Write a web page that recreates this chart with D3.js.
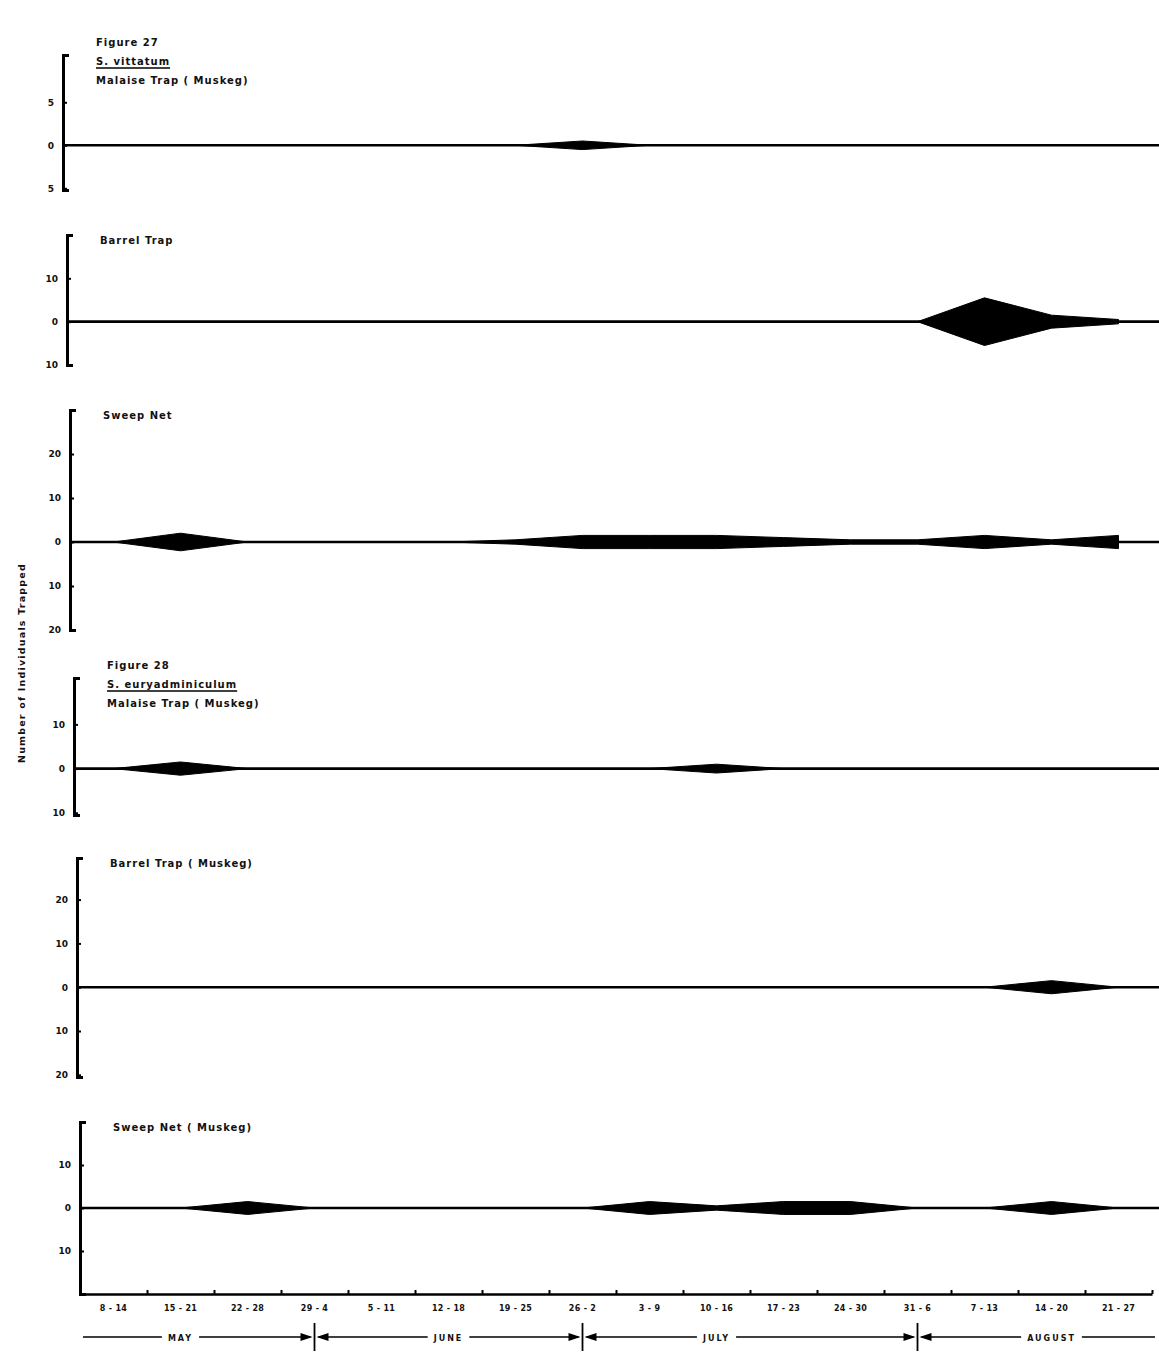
<!DOCTYPE html>
<html>
<head>
<meta charset="utf-8">
<script src="https://cdn.jsdelivr.net/npm/d3@7"></script>
<style>
  body { margin: 0; background: #fff; }
  svg text { font-family: "DejaVu Sans", "Liberation Sans", sans-serif; font-weight: bold; fill: #111; }
</style>
</head>
<body>
<svg id="chart"></svg>
<script>
// weekly collection periods (May - August)
const weeks = ["8 - 14", "15 - 21", "22 - 28", "29 - 4", "5 - 11", "12 - 18", "19 - 25", "26 - 2",
  "3 - 9", "10 - 16", "17 - 23", "24 - 30", "31 - 6", "7 - 13", "14 - 20", "21 - 27"];
const months = ["MAY", "JUNE", "JULY", "AUGUST"];
const monthBreaks = ["29 - 4", "26 - 2", "31 - 6"];

// number of individuals trapped per week
// Figure 27  S. vittatum
const vittatumMalaise = [0, 0, 0, 0, 0, 0, 0, 1, 0, 0, 0, 0, 0, 0, 0, 0];
const vittatumBarrel  = [0, 0, 0, 0, 0, 0, 0, 0, 0, 0, 0, 0, 0, 11, 3, 1];
const vittatumSweep   = [0, 4, 0, 0, 0, 0, 1, 3, 3, 3, 2, 1, 1, 3, 1, 3];
// Figure 28  S. euryadminiculum
const euryMalaise = [0, 3, 0, 0, 0, 0, 0, 0, 0, 2, 0, 0, 0, 0, 0, 0];
const euryBarrel  = [0, 0, 0, 0, 0, 0, 0, 0, 0, 0, 0, 0, 0, 0, 3, 0];
const eurySweep   = [0, 0, 3, 0, 0, 0, 0, 0, 3, 1, 3, 3, 0, 0, 3, 0];

// y tick values per panel (shown without sign)
const ticks5 = [5, 0, -5];
const ticks10 = [10, 0, -10];
const ticks20 = [20, 10, 0, -10, -20];

const width = 1159;
const height = 1353;
const svg = d3.select("#chart").attr("width", width).attr("height", height);

const panels = [
  { title: ["Figure  27", "S. vittatum", "Malaise  Trap ( Muskeg)"], under: 1, data: vittatumMalaise, ticks: ticks5,
    axisX: 63, top: 55, bottom: 190, domain: [-5.2, 10.5] },
  { title: ["Barrel  Trap"], data: vittatumBarrel, ticks: ticks10,
    axisX: 67, top: 235, bottom: 365, domain: [-10, 20] },
  { title: ["Sweep  Net"], data: vittatumSweep, ticks: ticks20,
    axisX: 70, top: 410, bottom: 630, domain: [-20, 30] },
  { title: ["Figure  28", "S. euryadminiculum", "Malaise  Trap  ( Muskeg)"], under: 1, data: euryMalaise, ticks: ticks10,
    axisX: 74, top: 678, bottom: 815, domain: [-10.5, 20.5] },
  { title: ["Barrel  Trap ( Muskeg)"], data: euryBarrel, ticks: ticks20,
    axisX: 77, top: 858, bottom: 1077, domain: [-20.5, 29.5] },
  { title: ["Sweep  Net  ( Muskeg)"], data: eurySweep, ticks: ticks10,
    axisX: 80, top: 1122, bottom: 1294, domain: [-20, 20] }
];

const x = d3.scaleBand().domain(weeks).range([80, 1152]).padding(0);
const xc = w => x(w) + x.bandwidth() / 2;

panels.forEach((p, pi) => {
  const y = d3.scaleLinear().domain(p.domain).range([p.bottom, p.top]);
  const g = svg.append("g");

  // kite
  const area = d3.area()
    .x((d, i) => xc(weeks[i]))
    .y0(d => y(-d / 2))
    .y1(d => y(d / 2));
  g.append("path")
    .datum(p.data)
    .attr("d", area)
    .attr("fill", "#000")
    .attr("stroke", "#000")
    .attr("stroke-width", 1);

  // zero line
  g.append("line")
    .attr("x1", p.axisX).attr("x2", width)
    .attr("y1", y(0)).attr("y2", y(0))
    .attr("stroke", "#000").attr("stroke-width", 2.6);

  // y axis bracket
  const yAxis = g.append("g")
    .attr("transform", `translate(${p.axisX},0)`)
    .call(d3.axisLeft(y).tickValues(p.ticks).tickSizeInner(-4).tickSizeOuter(-6)
      .tickPadding(9).tickFormat(d => Math.abs(d)));
  yAxis.select(".domain").attr("stroke", "#000").attr("stroke-width", 3).attr("fill", "none");
  yAxis.selectAll(".tick line").attr("stroke", "#000").attr("stroke-width", 2);
  yAxis.selectAll(".tick text").style("font-size", "9px").attr("fill", "#111");

  // titles
  const n = p.title.length;
  p.title.forEach((t, i) => {
    const by = n === 1 ? p.top + 9 : p.top - 9 + i * 19;
    const txt = g.append("text")
      .attr("x", p.axisX + 33).attr("y", by)
      .style("font-size", "10px").style("letter-spacing", "1px")
      .text(t);
    if (p.under === i) {
      const len = txt.node().getComputedTextLength();
      g.append("line")
        .attr("x1", p.axisX + 33).attr("x2", p.axisX + 33 + len)
        .attr("y1", by + 3).attr("y2", by + 3)
        .attr("stroke", "#000").attr("stroke-width", 1.6);
    }
  });

  // bottom week axis on last panel
  if (pi === panels.length - 1) {
    const lin = d3.scaleLinear().domain([0, weeks.length]).range(x.range());
    const base = g.append("g")
      .attr("transform", `translate(0,${p.bottom})`)
      .call(d3.axisBottom(lin).tickValues(d3.range(1, weeks.length + 1)).tickSizeInner(-4).tickSizeOuter(0).tickFormat(""));
    base.select(".domain").attr("stroke", "#000").attr("stroke-width", 2.6);
    base.selectAll(".tick line").attr("stroke", "#000").attr("stroke-width", 2);

    const labels = g.append("g")
      .attr("transform", `translate(0,${p.bottom})`)
      .call(d3.axisBottom(x).tickSize(0).tickPadding(11));
    labels.select(".domain").remove();
    labels.selectAll(".tick text").style("font-size", "8px").style("letter-spacing", "0.3px").attr("fill", "#111");

    // month row
    const my = p.bottom + 43;
    const breakIdx = [0].concat(monthBreaks.map(b => weeks.indexOf(b))).concat([weeks.length]);
    const edges = [83].concat(monthBreaks.map(xc)).concat([1155]);
    months.forEach((m, i) => {
      const x0 = edges[i] + (i > 0 ? 4 : 0);
      const x1 = edges[i + 1] - (i < months.length - 1 ? 4 : 0);
      const mx = xc(weeks[Math.floor((breakIdx[i] + breakIdx[i + 1]) / 2)]);
      const t = g.append("text")
        .attr("x", mx).attr("y", my + 3.5)
        .attr("text-anchor", "middle")
        .style("font-size", "8px").style("letter-spacing", "2px")
        .text(m);
      const half = t.node().getComputedTextLength() / 2 + 6;
      g.append("line").attr("x1", x0).attr("x2", mx - half).attr("y1", my).attr("y2", my)
        .attr("stroke", "#000").attr("stroke-width", 1.6);
      g.append("line").attr("x1", mx + half).attr("x2", x1).attr("y1", my).attr("y2", my)
        .attr("stroke", "#000").attr("stroke-width", 1.6);
    });
    monthBreaks.forEach(b => {
      const bx = xc(b);
      g.append("line").attr("x1", bx).attr("x2", bx).attr("y1", my - 14).attr("y2", my + 14)
        .attr("stroke", "#000").attr("stroke-width", 1.8);
      g.append("path")
        .attr("d", `M${bx - 2},${my} L${bx - 14},${my - 4} L${bx - 14},${my + 4} Z`)
        .attr("fill", "#000");
      g.append("path")
        .attr("d", `M${bx + 2},${my} L${bx + 14},${my - 4} L${bx + 14},${my + 4} Z`)
        .attr("fill", "#000");
    });
  }
});

// shared y title
svg.append("text")
  .attr("transform", "translate(25,663) rotate(-90)")
  .attr("text-anchor", "middle")
  .style("font-size", "9.5px").style("letter-spacing", "1.2px")
  .text("Number of Individuals Trapped");
</script>
</body>
</html>
